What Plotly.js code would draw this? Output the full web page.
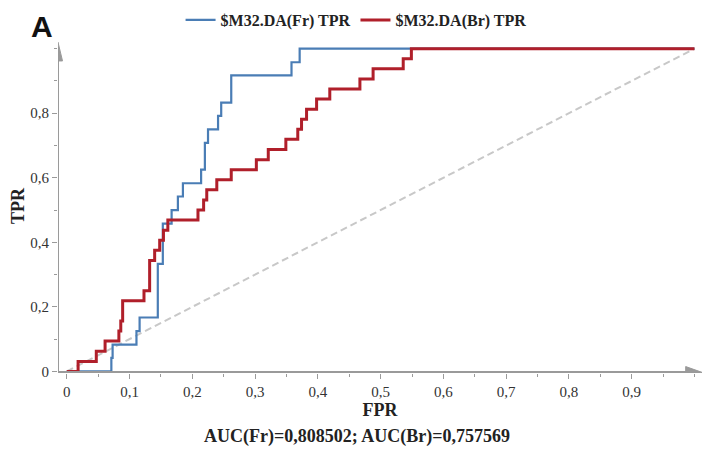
<!DOCTYPE html>
<html>
<head>
<meta charset="utf-8">
<script src="https://cdn.plot.ly/plotly-3.0.1.min.js"></script>
<style>
html,body{margin:0;padding:0;background:#fff;}
#chart{width:715px;height:454px;}
</style>
</head>
<body>
<div id="chart"></div>
<script>
// ROC curve for Fr (blue)
const frFPR = [0, 0.071, 0.073, 0.111, 0.116, 0.145, 0.153, 0.167, 0.177, 0.185, 0.214, 0.220, 0.225, 0.241, 0.246, 0.262, 0.358, 0.371, 1.0];
const frTPR = [0, 0.042, 0.083, 0.125, 0.167, 0.333, 0.458, 0.500, 0.542, 0.583, 0.625, 0.708, 0.750, 0.792, 0.833, 0.917, 0.958, 1.000, 1.0];
// ROC curve for Br (red)
const brFPR = [0, 0.018, 0.047, 0.061, 0.083, 0.086, 0.089, 0.123, 0.132, 0.140, 0.148, 0.154, 0.161, 0.209, 0.218, 0.223, 0.239, 0.262, 0.302, 0.321, 0.349, 0.368, 0.374, 0.382, 0.398, 0.419, 0.467, 0.488, 0.536, 0.549, 1.0];
const brTPR = [0, 0.031, 0.0625, 0.094, 0.125, 0.156, 0.219, 0.250, 0.344, 0.375, 0.406, 0.4375, 0.469, 0.500, 0.531, 0.5625, 0.594, 0.625, 0.656, 0.6875, 0.719, 0.750, 0.781, 0.8125, 0.844, 0.875, 0.906, 0.9375, 0.969, 1.0, 1.0];
// Chance diagonal
const diagX = [0, 1];
const diagY = [0, 1];
// Tick labels
const xTickVals = [0, 0.1, 0.2, 0.3, 0.4, 0.5, 0.6, 0.7, 0.8, 0.9];
const xTickText = ["0", "0,1", "0,2", "0,3", "0,4", "0,5", "0,6", "0,7", "0,8", "0,9"];
const yTickVals = [0, 0.2, 0.4, 0.6, 0.8];
const yTickText = ["0", "0,2", "0,4", "0,6", "0,8"];
const seriesNames = ["$M32.DA(Fr) TPR", "$M32.DA(Br) TPR"];
const aucText = "AUC(Fr)=0,808502; AUC(Br)=0,757569";

const serif = "Liberation Serif, Times New Roman, serif";
const axisGray = "#9a9a9a";

const traces = [
  {x: diagX, y: diagY, mode: "lines", showlegend: false, hoverinfo: "skip",
   line: {color: "#c8c8c8", width: 2, dash: "7px,4px"}},
  {x: frFPR, y: frTPR, mode: "lines", name: "<b>" + seriesNames[0] + "</b>",
   line: {color: "#4a7db5", width: 2.2, shape: "hv"}},
  {x: brFPR, y: brTPR, mode: "lines", name: "<b>" + seriesNames[1] + "</b>",
   line: {color: "#b01f2a", width: 3, shape: "hv"}}
];

const xr = [-0.014, 1.012];
const yr = [-0.005, 1.03];

const layout = {
  width: 715, height: 454,
  margin: {l: 58, r: 13, t: 39, b: 81, autoexpand: false},
  paper_bgcolor: "#fff", plot_bgcolor: "#fff",
  showlegend: true,
  legend: {orientation: "h", xref: "container", yref: "container",
           x: 0.498, xanchor: "center", y: 0.956, yanchor: "middle",
           traceorder: "normal", itemwidth: 30, tracegroupgap: 0,
           font: {family: serif, size: 16, color: "#222"}, bgcolor: "rgba(0,0,0,0)"},
  xaxis: {range: xr, showgrid: false, zeroline: false, showline: false,
          tickmode: "array", tickvals: xTickVals, ticktext: xTickText,
          ticks: "outside", ticklen: 5, tickcolor: axisGray, tickwidth: 1,
          minor: {dtick: 0.05, tick0: 0, ticks: "outside", ticklen: 3, tickcolor: axisGray},
          tickfont: {family: serif, size: 15, color: "#333"},
          title: {text: "<b>FPR</b>", font: {family: serif, size: 18, color: "#222"}, standoff: 4}},
  yaxis: {range: yr, showgrid: false, zeroline: false, showline: false,
          tickmode: "array", tickvals: yTickVals, ticktext: yTickText,
          ticks: "outside", ticklen: 5, tickcolor: axisGray, tickwidth: 1,
          minor: {dtick: 0.1, tick0: 0, ticks: "outside", ticklen: 3, tickcolor: axisGray},
          tickfont: {family: serif, size: 15, color: "#333"},
          title: {text: "<b>TPR</b>", font: {family: serif, size: 18, color: "#222"}, standoff: 0}},
  shapes: [
    // y axis line + arrow head
    {type: "line", xref: "x", yref: "y", x0: xr[0], x1: xr[0], y0: yr[0], y1: 0.97,
     line: {color: axisGray, width: 2}},
    {type: "path", xref: "x", yref: "y",
     path: "M " + (xr[0] - 0.0072) + " 0.962 L " + (xr[0] + 0.0072) + " 0.962 L " + xr[0] + " 1.02 Z",
     fillcolor: axisGray, line: {color: axisGray, width: 1}},
    // x axis line + arrow head
    {type: "line", xref: "x", yref: "y", x0: xr[0], x1: 0.99, y0: -0.003, y1: -0.003,
     line: {color: axisGray, width: 2.5}},
    {type: "path", xref: "x", yref: "y",
     path: "M 0.986 -0.021 L 0.986 0.015 L 1.012 -0.003 Z",
     fillcolor: axisGray, line: {color: axisGray, width: 1}}
  ],
  annotations: [
    {text: "<b>" + aucText + "</b>", xref: "paper", yref: "paper", x: 0.465, y: -0.19,
     xanchor: "center", yanchor: "middle", showarrow: false,
     font: {family: serif, size: 18, color: "#222"}},
    {text: "<b>A</b>", xref: "paper", yref: "paper", x: -0.025, y: 1.036,
     xanchor: "center", yanchor: "middle", showarrow: false,
     font: {family: "Liberation Sans, Arial, sans-serif", size: 30, color: "#111"}}
  ],
  separators: ",."
};

Plotly.newPlot("chart", traces, layout, {displayModeBar: false, staticPlot: true});
</script>
</body>
</html>
